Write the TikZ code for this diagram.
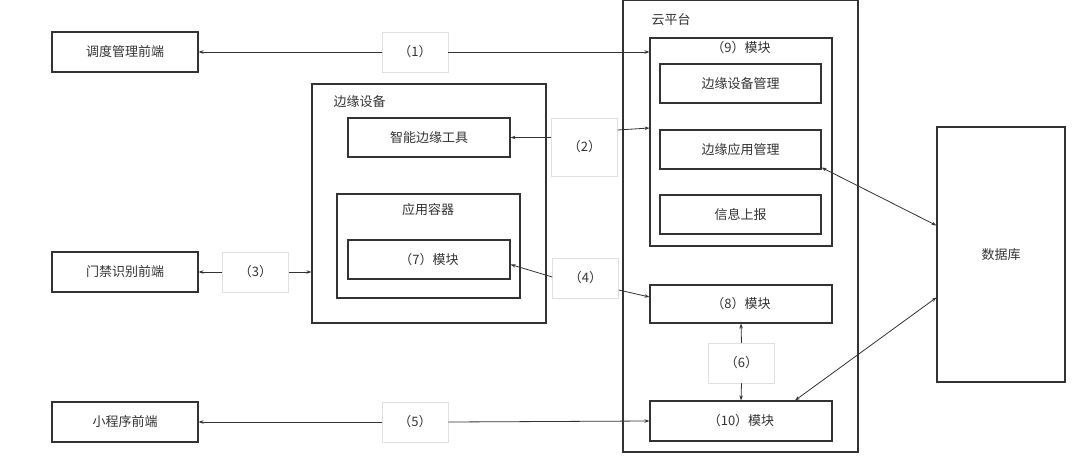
\documentclass[tikz,border=0pt]{standalone}
\usepackage{fontspec}
\setmainfont{Noto Sans CJK SC}
\usetikzlibrary{arrows.meta}
\begin{document}
\begin{tikzpicture}[x=1pt,y=-1pt,
  bx/.style={draw=black!80,line width=1.1pt},
  lb/.style={draw=black!12,fill=white,line width=0.5pt},
  t/.style={font=\fontsize{13}{15}\selectfont,text=black!80},
  ar/.style={draw=black!80,line width=0.8pt,-{Stealth[length=5pt,width=3.5pt]}},
  dar/.style={ar,{Stealth[length=5pt,width=3.5pt]}-{Stealth[length=5pt,width=3.5pt]}}]
\useasboundingbox (0,0) rectangle (1080,466);
\tikzset{rb/.style={bx,rectangle,inner sep=0pt,t}}
\node[rb,minimum width=146pt,minimum height=40pt] (dd) at (125,52) {调度管理前端};
\node[rb,minimum width=146pt,minimum height=40pt] (mj) at (125,272) {门禁识别前端};
\node[rb,minimum width=146pt,minimum height=40pt] (xc) at (125,422) {小程序前端};
\node[rb,minimum width=234pt,minimum height=239pt] (by) at (429,203.5) {};
\node[t,anchor=west] (byt) at (330,102) {边缘设备};
\node[rb,minimum width=162pt,minimum height=39pt] (zn) at (429,137.5) {智能边缘工具};
\node[rb,minimum width=183pt,minimum height=104pt] (rq) at (428.5,246) {};
\node[t] (rqt) at (428,210) {应用容器};
\node[rb,minimum width=162pt,minimum height=39pt] (m7) at (429,259.5) {（7）模块};
\node[rb,minimum width=235pt,minimum height=452pt] (yp) at (740.5,226) {};
\node[t,anchor=west] (ypt) at (648,20) {云平台};
\node[rb,minimum width=182pt,minimum height=208pt] (m9) at (741,142) {};
\node[t] (m9t) at (741,48) {（9）模块};
\node[rb,minimum width=161pt,minimum height=39pt] (sb) at (740.5,83.5) {边缘设备管理};
\node[rb,minimum width=161pt,minimum height=39pt] (yy) at (740.5,149.5) {边缘应用管理};
\node[rb,minimum width=161pt,minimum height=39pt] (xx) at (740.5,214.5) {信息上报};
\node[rb,minimum width=182pt,minimum height=38pt] (m8) at (741,304) {（8）模块};
\node[rb,minimum width=182pt,minimum height=40pt] (m10) at (741,421) {（10）模块};
\node[rb,minimum width=128pt,minimum height=255pt] (db) at (1001,254.5) {数据库};
\tikzset{lab/.style={lb,t,minimum width=66pt,inner sep=0pt}}
\node[lab,minimum height=40pt] (l1) at (415,52) {（1）};
\node[lab,minimum height=58pt] (l2) at (584.5,147) {（2）};
\node[lab,minimum height=40pt] (l3) at (255.5,272) {（3）};
\node[lab,minimum height=40pt] (l4) at (585.5,278) {（4）};
\node[lab,minimum height=40pt] (l5) at (415,422) {（5）};
\node[lab,minimum height=40pt] (l6) at (741.5,363) {（6）};
\draw[ar] (l1.west) -- (dd.east);
\draw[ar] (l1.east) -- (m9.west |- l1.east);
\draw[ar] (l2.west |- zn.east) -- (zn.east);
\draw[ar] ([yshift=17pt]l2.east) -- ([yshift=14pt]m9.west);
\draw[ar] (l3.west) -- (mj.east);
\draw[ar] (l3.east) -- (by.west |- l3.east);
\draw[ar] ([yshift=1pt]l4.west) -- ([yshift=-5pt]m7.east);
\draw[ar] ([yshift=-12pt]l4.east) -- ([yshift=7pt]m8.west);
\draw[ar] (l5.west) -- (xc.east);
\draw[ar] (l5.east) -- (m10.west);
\draw[ar] (l6.north) -- (m8.south);
\draw[ar] (l6.south) -- (m10.north);
\draw[dar] ([yshift=-18pt]yy.east) -- ([yshift=29pt]db.west);
\draw[dar] ([xshift=54pt]m10.north) -- ([yshift=-43pt]db.west);
\end{tikzpicture}
\end{document}
